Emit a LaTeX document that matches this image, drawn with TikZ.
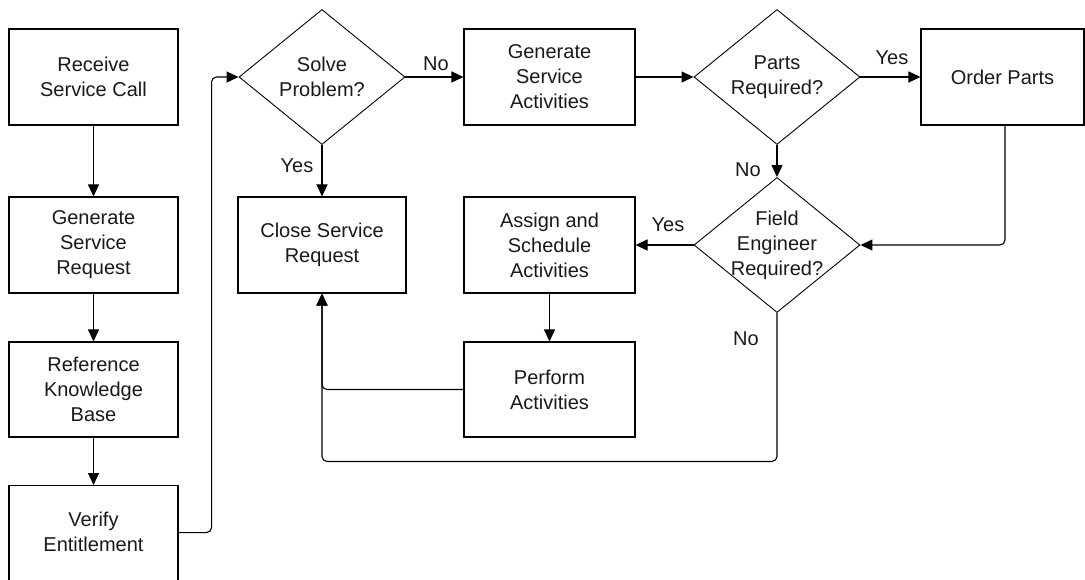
\documentclass[tikz,border=0pt]{standalone}
\usepackage{fontspec}
\setmainfont{Liberation Sans}
\usetikzlibrary{shapes.geometric,arrows.meta}
\begin{document}
\begin{tikzpicture}[x=1pt,y=-1pt,
  every node/.style={font=\fontsize{20}{25}\selectfont, align=center, text=black!90},
  box/.style={draw=black, line width=1.1pt, minimum width=170pt, minimum height=96pt, inner sep=0pt},
  dec/.style={draw=black, diamond, line width=0.9pt, minimum width=166pt, minimum height=135pt, inner sep=0pt},
  arr/.style={draw=black, line width=1.1pt, -{Triangle[length=12pt,width=11pt]}, rounded corners=5pt},
  lbl/.style={inner sep=0pt}
]
\useasboundingbox (0,0) rectangle (1085,580);
\clip (0,0) rectangle (1085,580);

% left column
\node[box, minimum width=169pt] (receive) at (93.5,77) {Receive\\Service Call};
\node[box, minimum width=169pt] (gsr) at (93.5,245) {Generate\\Service\\Request};
\node[box, minimum width=169pt, minimum height=95pt] (rkb) at (93.5,389.5) {Reference\\Knowledge\\Base};
\node[box, minimum width=169pt, minimum height=120pt, anchor=north,
      label={[yshift=14pt]center:Verify\\Entitlement}] (verify) at (93.5,485) {};

% decisions
\node[dec, label={center:Solve\\Problem?}] (solve) at (322,77) {};
\node[dec, label={center:Parts\\Required?}] (parts) at (777,77) {};
\node[dec, label={center:Field\\Engineer\\Required?}] (field) at (777,245) {};

% process boxes
\node[box, minimum width=171pt] (gsa) at (549.5,77) {Generate\\Service\\Activities};
\node[box, minimum width=163pt] (order) at (1002.5,77) {Order Parts};
\node[box, minimum width=168pt] (close) at (322,245) {Close Service\\Request};
\node[box, minimum width=171pt] (assign) at (549.5,245) {Assign and\\Schedule\\Activities};
\node[box, minimum width=171pt, minimum height=95pt] (perform) at (549.5,389.5) {Perform\\Activities};

% connectors
\draw[arr] (receive) -- (gsr);
\draw[arr] (gsr) -- (rkb);
\draw[arr] (rkb) -- (verify);
\draw[arr] ([yshift=13pt]verify.east) -| ([xshift=-27pt]solve.west) -- (solve.west);
\draw[arr] (solve.east) -- (gsa.west);
\draw[arr] (solve.south) -- (close.north);
\draw[arr] (gsa.east) -- (parts.west);
\draw[arr] (parts.east) -- (order.west);
\draw[arr] (parts.south) -- (field.north);
\draw[arr] ([xshift=2.5pt]order.south) |- (field.east);
\draw[arr] (field.west) -- (assign.east);
\draw[arr] (assign.south) -- (perform.north);
\draw[arr] (perform.west) -| (close.south);
\draw[arr] (field.south) -- ([yshift=-148.5pt]field.south) -| (close.south);

% branch labels
\node[lbl] (l1) at (436,64) {No};
\node[lbl] (l2) at (297,166) {Yes};
\node[lbl] (l3) at (892,58) {Yes};
\node[lbl] (l4) at (748,170) {No};
\node[lbl] (l5) at (668,225) {Yes};
\node[lbl] (l6) at (746,339) {No};
\end{tikzpicture}
\end{document}
